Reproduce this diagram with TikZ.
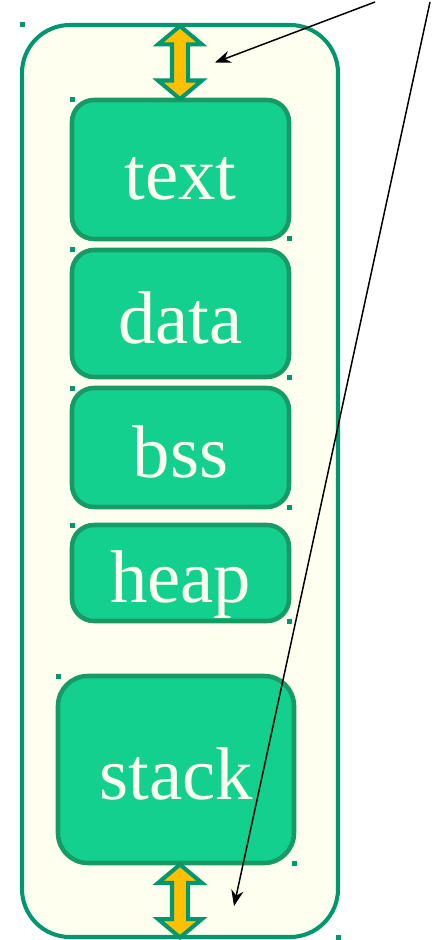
\documentclass[tikz,border=0pt]{standalone}
\usepackage{fontspec}
\setmainfont{Liberation Serif}
\usetikzlibrary{shapes.arrows,arrows.meta}

\begin{document}
\begin{tikzpicture}[
    >={Stealth[length=9pt,width=7pt]},
    % Colors
    cframe/.style={draw={rgb,255:red,0;green,150;blue,110}},
    cpaper/.style={fill={rgb,255:red,254;green,255;blue,238}},
    cseg/.style={fill={rgb,255:red,19;green,208;blue,143}, draw={rgb,255:red,22;green,155;blue,103}},
    cgrow/.style={fill={rgb,255:red,255;green,192;blue,0}, draw={rgb,255:red,0;green,150;blue,110}},
    % Styles
    memory/.style={cframe, cpaper, rounded corners=0.96cm, line width=2.3pt, outer sep=0pt,
                   minimum width=6.32cm, minimum height=18.24cm},
    segment/.style={cseg, rounded corners=0.44cm, line width=2.6pt, outer sep=0pt,
                    minimum width=4.34cm, text={rgb,255:red,254;green,255;blue,238},
                    font=\fontsize{42.5}{50}\selectfont, text height=34pt, text depth=0pt},
    growth/.style={double arrow, cgrow, line width=2.3pt, rotate=90, inner sep=0.12cm,
                 minimum height=1.46cm, minimum width=0.8cm,
                 double arrow head extend=0.28cm, double arrow tip angle=100},
    handle/.style={fill={rgb,255:red,0;green,150;blue,110}, inner sep=0pt, minimum size=0.1cm},
    pointer/.style={->, line width=0.85pt},
  ]

  \useasboundingbox (0,0) rectangle (8.94,-18.8);

  % Address space
  \node[memory] (outer) at (3.6, -9.62) {};

  % Segments
  \node[segment, minimum height=2.78cm] (text) at (3.61, -3.39) {text};
  \node[segment, minimum height=2.54cm] (data) at (3.61, -6.27) {data};
  \node[segment, minimum height=2.38cm] (bss) at (3.61, -8.95) {bss};
  \node[segment, minimum height=1.92cm] (heap) at (3.61, -11.46) {heap};
  \node[segment, minimum height=3.74cm, minimum width=4.72cm,
        rounded corners=0.6cm] (stack) at (3.52, -15.39) {stack};

  % Growth arrows
  \node[growth] (growtop) at (3.6, -1.25) {};
  \node[growth] (growbot) at (3.6, -18.02) {};

  % Handles
  \foreach \b in {outer, text, data, bss, heap, stack} {
    \node[handle] (\b-nw) at (\b.north west) {};
    \node[handle] (\b-se) at (\b.south east) {};
  }

  % Pointers
  \coordinate (srctop) at (7.5, -0.04);
  \coordinate (srcbot) at (8.6, -0.04);
  \coordinate (tiptop) at (4.3, -1.25);
  \coordinate (tipbot) at (4.68, -18.12);
  \draw[pointer] (srctop) -- (tiptop);
  \draw[pointer] (srcbot) -- (tipbot);

\end{tikzpicture}
\end{document}
